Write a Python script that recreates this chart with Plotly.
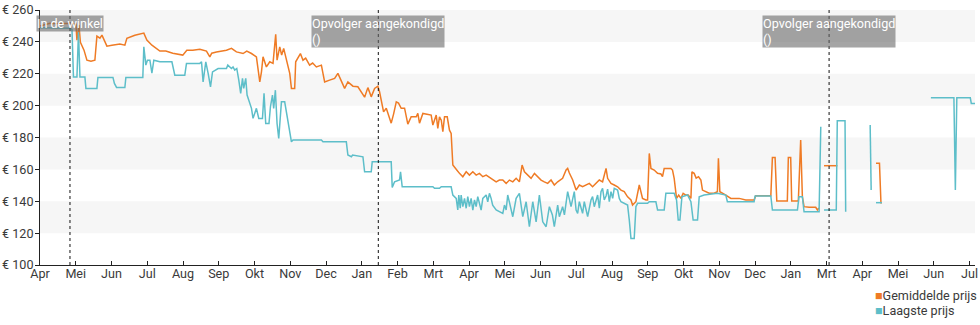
import pandas as pd
import plotly.graph_objects as go

# ---- price history (day offset from start date, price in euro) ----
start = pd.Timestamp("2022-04-01")

avg_points = [
    (0, 249.9), (8.9, 251.7), (17.8, 251.4), (26.7, 251.7), (32.0, 251.1), (32.9, 241.1), (34.7, 250.5),
    (36.0, 239.8), (39.2, 234.8), (41.8, 228.5), (45.4, 227.9), (48.9, 228.5), (50.7, 243.6), (53.4, 242.3),
    (55.2, 244.2), (59.6, 237.3), (64.1, 237.9), (71.2, 238.6), (75.6, 237.9), (77.4, 242.3), (84.5, 244.2),
    (89.0, 244.8), (92.5, 245.5), (95.2, 241.1), (99.7, 237.9), (106.8, 234.2), (112.1, 234.2), (118.3, 232.9),
    (127.2, 231.7), (130.8, 234.8), (136.1, 234.8), (142.4, 235.4), (148.3, 234.2), (151.3, 230.6), (153.0, 232.9),
    (157.2, 233.7), (166.1, 234.8), (170.6, 235.9), (175.0, 233.7), (180.9, 232.7), (184.2, 234.2), (188.4, 232.7),
    (192.8, 230.6), (195.8, 214.9), (197.3, 221.2), (198.7, 230.6), (201.7, 224.3), (204.7, 227.5), (207.6, 226.5),
    (210.0, 244.8), (211.2, 228.5), (213.6, 236.9), (215.3, 231.7), (217.1, 235.9), (218.9, 231.0), (220.9, 224.3),
    (222.5, 220.2), (224.0, 210.8), (226.9, 210.8), (227.8, 227.5), (229.8, 229.6), (232.0, 232.7), (234.3, 228.5),
    (236.7, 229.8), (240.2, 225.4), (242.9, 226.7), (246.2, 224.3), (250.7, 225.4), (252.1, 220.2), (253.6, 214.9),
    (258.0, 216.0), (262.5, 217.1), (265.4, 220.2), (268.5, 214.9), (271.4, 210.8), (274.3, 214.9), (278.8, 212.2),
    (283.2, 211.8), (286.3, 208.7), (289.2, 205.3), (292.1, 211.3), (295.1, 205.5), (298.1, 210.8), (301.0, 212.2),
    (302.5, 208.7), (304.9, 199.3), (306.1, 196.1), (308.5, 198.3), (312.9, 189.0), (315.0, 194.7), (317.4, 202.4),
    (319.4, 201.6), (321.8, 198.3), (324.8, 198.4), (326.3, 193.0), (327.7, 188.4), (330.7, 193.0), (335.2, 193.0),
    (336.6, 195.1), (338.1, 189.0), (341.1, 195.1), (345.2, 194.7), (348.5, 194.1), (350.0, 187.8), (353.0, 194.1),
    (354.4, 185.7), (355.9, 193.0), (357.5, 190.9), (358.9, 183.6), (360.4, 193.0), (362.8, 193.0), (364.8, 184.6),
    (366.3, 182.6), (367.8, 162.7), (369.3, 161.6), (371.3, 159.6), (373.7, 157.5), (376.7, 155.4), (379.7, 158.5),
    (382.6, 156.4), (385.6, 158.5), (388.6, 156.4), (391.5, 157.5), (394.5, 155.4), (397.5, 156.4), (401.9, 154.4),
    (406.4, 152.2), (409.3, 153.3), (412.3, 153.3), (415.3, 151.2), (418.2, 153.3), (421.2, 152.2), (424.2, 154.4),
    (427.1, 152.2), (429.5, 162.7), (431.6, 158.5), (434.5, 156.4), (437.5, 154.4), (440.5, 157.5), (443.4, 155.4),
    (446.4, 153.3), (449.3, 152.2), (452.3, 151.2), (455.3, 153.3), (458.2, 150.2), (461.2, 152.2), (465.6, 154.4),
    (468.7, 159.6), (470.1, 160.6), (471.6, 157.7), (474.6, 153.3), (477.6, 147.0), (480.5, 150.2), (483.4, 149.1),
    (486.5, 150.2), (489.4, 151.2), (492.3, 149.1), (495.3, 151.2), (498.3, 153.3), (501.2, 152.2), (504.3, 160.6),
    (505.7, 154.4), (508.7, 151.2), (511.6, 150.2), (514.6, 149.1), (517.6, 147.0), (520.5, 146.0), (523.5, 142.8),
    (526.5, 140.8), (527.9, 137.6), (530.9, 139.7), (533.9, 150.2), (535.4, 145.0), (536.8, 141.8), (539.8, 140.8),
    (541.3, 140.8), (542.8, 170.0), (544.3, 160.6), (547.2, 159.6), (550.2, 157.5), (553.2, 157.1), (554.6, 155.4),
    (556.1, 160.6), (562.1, 160.6), (563.5, 159.6), (565.0, 154.4), (567.1, 141.8), (569.0, 143.9), (571.0, 141.8),
    (573.0, 145.0), (575.4, 143.9), (577.5, 143.9), (579.9, 141.8), (580.8, 158.5), (582.8, 157.5), (584.6, 154.5),
    (586.7, 155.4), (588.8, 153.3), (590.2, 147.0), (593.2, 146.0), (596.2, 145.0), (600.6, 145.0), (603.5, 146.0),
    (604.4, 166.9), (605.7, 146.0), (611.0, 143.9), (615.5, 141.8), (622.9, 141.8), (628.8, 140.8), (636.2, 140.8),
    (637.7, 143.5), (651.1, 143.5), (652.5, 167.5), (654.9, 167.5), (656.4, 140.1), (665.8, 140.1), (666.7, 167.5),
    (668.8, 167.5), (669.7, 140.1), (675.6, 140.1), (677.7, 178.4), (679.2, 142.8), (680.7, 136.6), (685.2, 136.2),
    (691.1, 136.2), (692.6, 134.5), (694.1, 135.7), (696.0, None), (698.5, 162.3), (710.4, 162.3), (727.0, None),
    (744.8, 163.8), (747.9, 163.8), (749.2, 139.1), (750.1, 139.1),
]

low_points = [
    (0, 248.9), (26.7, 248.6), (28.5, 247.8), (29.8, 217.9), (32.9, 217.9), (34.3, 246.1), (35.6, 217.9),
    (40.0, 217.9), (40.9, 210.8), (50.7, 210.8), (51.6, 217.7), (65.0, 217.7), (66.3, 213.9), (68.2, 211.4),
    (75.6, 211.4), (76.5, 217.7), (91.6, 217.7), (92.5, 236.9), (94.3, 225.4), (95.7, 228.5), (97.9, 228.5),
    (99.7, 220.4), (101.4, 228.5), (106.8, 227.5), (117.5, 227.5), (120.1, 219.1), (129.0, 219.1), (130.5, 226.5),
    (142.4, 226.5), (143.9, 227.5), (145.3, 214.9), (147.7, 227.5), (149.8, 220.2), (151.9, 211.8), (153.7, 221.2),
    (158.7, 223.3), (166.1, 223.3), (167.3, 225.4), (170.6, 223.3), (172.0, 224.3), (173.5, 222.3), (175.3, 223.3),
    (177.1, 216.0), (178.8, 207.7), (180.4, 217.1), (181.5, 210.8), (183.3, 217.1), (184.5, 206.6), (188.4, 198.3),
    (189.8, 192.0), (192.8, 198.3), (194.9, 192.0), (198.2, 192.0), (199.6, 207.7), (201.1, 188.8), (204.0, 188.8),
    (205.3, 199.3), (207.1, 206.6), (208.2, 198.3), (209.7, 209.7), (211.2, 188.8), (212.7, 179.4), (215.1, 202.4),
    (218.0, 202.4), (224.0, 177.3), (225.4, 178.4), (250.7, 178.4), (252.1, 177.3), (272.9, 177.3), (274.3, 169.0),
    (277.4, 167.9), (278.5, 169.0), (287.7, 167.9), (289.2, 158.5), (295.1, 158.5), (296.0, 164.8), (312.9, 164.8),
    (313.8, 148.7), (315.9, 152.2), (320.3, 153.3), (321.2, 158.5), (322.7, 149.1), (350.0, 149.1), (351.5, 148.1),
    (355.9, 148.1), (357.5, 149.1), (366.3, 149.1), (367.8, 143.9), (370.8, 141.8), (372.2, 134.5), (373.1, 143.9),
    (374.4, 135.6), (375.2, 143.9), (376.7, 136.6), (378.2, 141.8), (379.7, 135.6), (381.1, 142.9), (382.6, 136.6),
    (384.1, 141.8), (385.6, 134.5), (387.1, 140.8), (388.6, 136.6), (390.0, 142.9), (391.5, 137.6), (393.0, 134.5),
    (394.5, 141.8), (397.5, 143.9), (398.9, 139.7), (400.4, 145.0), (401.9, 141.8), (403.3, 137.6), (406.4, 134.5),
    (409.3, 133.4), (412.3, 132.4), (413.8, 137.6), (415.3, 134.5), (416.7, 143.9), (418.2, 138.7), (421.2, 130.3),
    (424.2, 141.8), (427.1, 145.0), (430.1, 130.3), (433.1, 139.7), (436.0, 124.0), (439.0, 139.7), (442.0, 127.1),
    (444.9, 143.9), (447.9, 127.1), (450.9, 124.0), (453.8, 136.6), (456.5, 131.4), (458.2, 124.0), (461.2, 137.6),
    (462.7, 130.3), (465.6, 136.6), (467.2, 131.4), (470.1, 146.0), (473.1, 136.6), (476.0, 146.0), (477.6, 134.5),
    (479.0, 132.4), (480.5, 139.7), (483.4, 132.4), (484.9, 139.7), (487.9, 130.3), (490.9, 140.8), (492.3, 142.9),
    (493.8, 136.6), (496.8, 143.9), (498.3, 135.6), (499.8, 146.0), (501.2, 148.1), (502.7, 140.8), (504.3, 143.3),
    (505.7, 147.6), (507.2, 139.7), (508.7, 146.0), (510.2, 141.8), (511.6, 148.1), (514.6, 147.0), (516.1, 141.8),
    (517.6, 139.7), (520.5, 138.7), (523.5, 137.6), (525.0, 128.2), (526.5, 116.7), (529.4, 116.7), (530.9, 136.6),
    (532.4, 138.7), (541.3, 138.7), (542.8, 139.7), (548.7, 139.7), (550.2, 134.5), (556.1, 134.5), (557.6, 145.0),
    (565.0, 145.0), (567.1, 140.8), (568.6, 128.2), (570.1, 128.2), (571.9, 142.8), (576.9, 143.9), (579.9, 139.7),
    (581.9, 128.2), (585.8, 128.2), (587.3, 142.8), (591.7, 143.9), (603.5, 145.0), (611.0, 143.9), (612.4, 139.7),
    (636.2, 139.7), (637.1, 143.3), (651.1, 143.3), (652.5, 134.5), (674.8, 134.5), (676.2, 142.8), (679.2, 142.8),
    (680.7, 133.4), (694.1, 133.4), (695.6, 186.7), (697.0, None), (698.5, 134.5), (709.4, 134.5), (710.3, 190.5),
    (717.2, 190.5), (717.8, 133.4), (728.0, None), (739.6, 187.8), (740.5, 147.0), (742.0, None), (744.8, 139.1),
    (750.1, 139.1), (770.0, None), (793.7, 204.9), (814.2, 204.9), (815.5, 147.0), (816.8, 204.9), (828.8, 204.9),
    (829.7, 201.4), (833.0, 201.4),
]

# events marked with a dotted line and a label
event_days = [26.7, 301.4, 703.0]
event_labels = ["In de winkel", "Opvolger aangekondigd<br>()", "Opvolger aangekondigd<br>()"]

# axis ticks
month_labels = ["Apr", "Mei", "Jun", "Jul", "Aug", "Sep", "Okt", "Nov", "Dec", "Jan", "Feb", "Mrt",
                "Apr", "Mei", "Jun", "Jul", "Aug", "Sep", "Okt", "Nov", "Dec", "Jan", "Mrt",
                "Apr", "Mei", "Jun", "Jul"]
month_step_days = 31.85
y_ticks = [100, 120, 140, 160, 180, 200, 220, 240, 260]
x_end_days = 833

series_names = ["Gemiddelde prijs", "Laagste prijs"]
series_colors = ["#ef7b25", "#5dbec9"]

TEXT_COLOR = "#3a3a3a"
FONT_SIZE = 12.6


def to_date(d):
    return start + pd.Timedelta(days=d)


fig = go.Figure()

for pts, name, color in zip([avg_points, low_points], series_names, series_colors):
    fig.add_trace(go.Scatter(
        x=[to_date(d) for d, _ in pts],
        y=[v for _, v in pts],
        mode="lines",
        line=dict(color=color, width=1.5),
        connectgaps=False,
        name=name,
        showlegend=False,
        hoverinfo="skip",
    ))

# alternating horizontal bands
for i in range(1, len(y_ticks) - 1, 2):
    fig.add_shape(type="rect", xref="paper", yref="y", x0=0, x1=1,
                  y0=y_ticks[i], y1=y_ticks[i + 1],
                  fillcolor="#f6f6f6", line=dict(width=0), layer="below")

# event markers
for d, label in zip(event_days, event_labels):
    fig.add_shape(type="line", xref="x", yref="paper", x0=to_date(d), x1=to_date(d),
                  y0=0, y1=1, line=dict(color="#111111", width=1, dash="dot"))
    fig.add_annotation(x=to_date(d), xref="x", y=1, yref="paper", yanchor="top", xanchor="center",
                       yshift=-5, text=label, showarrow=False, align="left",
                       font=dict(color="white", size=FONT_SIZE, family="Roboto"),
                       bgcolor="rgba(105,105,105,0.6)", borderpad=0)

# key in the lower right corner: coloured square followed by the series name
for k, (name, color) in enumerate(zip(series_names, series_colors)):
    fig.add_annotation(
        xref="paper", yref="paper", x=0.8905, y=-0.12 - 0.059 * k,
        xanchor="left", yanchor="middle", showarrow=False, align="left",
        text=f"<span style='color:{color}'>■</span>{name}",
        font=dict(size=FONT_SIZE, color=TEXT_COLOR, family="Roboto"),
    )

fig.update_xaxes(
    range=[start, to_date(x_end_days)],
    tickvals=[to_date(k * month_step_days) for k in range(len(month_labels))],
    ticktext=month_labels,
    showline=True, linecolor="#222222", linewidth=1,
    ticks="inside", ticklen=4, tickcolor="#222222",
    ticklabelstandoff=-3,
    showgrid=False, zeroline=False, automargin=False,
    tickfont=dict(size=FONT_SIZE, color=TEXT_COLOR),
)
fig.update_yaxes(
    range=[y_ticks[0], y_ticks[-1]],
    tickvals=y_ticks, ticktext=[f"€ {v}" for v in y_ticks],
    showline=True, linecolor="#222222", linewidth=1,
    ticks="outside", ticklen=4, tickcolor="#222222",
    ticklabelstandoff=-1,
    showgrid=False, zeroline=False, automargin=False,
    tickfont=dict(size=FONT_SIZE, color=TEXT_COLOR),
)

fig.update_layout(
    width=980, height=325,
    margin=dict(l=40, r=5, t=10, b=60, autoexpand=False),
    plot_bgcolor="white", paper_bgcolor="white",
    font=dict(family="Roboto", size=FONT_SIZE, color=TEXT_COLOR),
    showlegend=False,
)

fig.write_html("out.html")
